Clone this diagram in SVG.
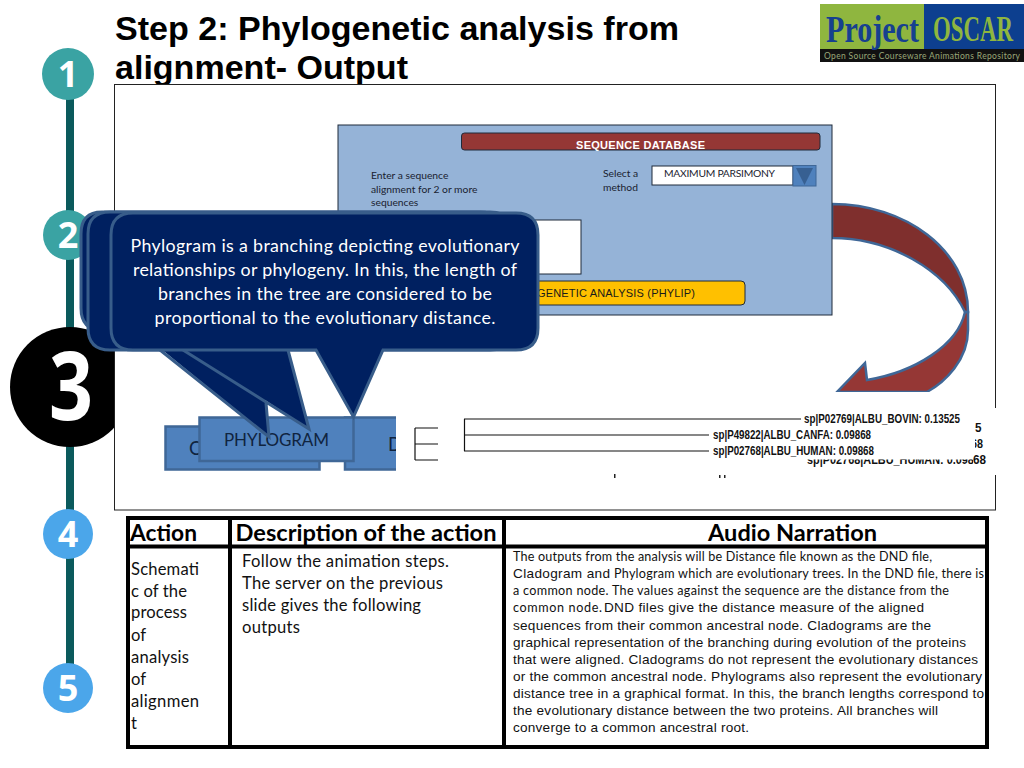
<svg xmlns="http://www.w3.org/2000/svg" width="1024" height="768" viewBox="0 0 1024 768">
<style>
text{font-family:"Lato","Noto Sans",sans-serif;fill:#111}
.ar{font-family:"Liberation Sans",Arial,sans-serif}
.title{font-family:"Liberation Sans",Arial,sans-serif;font-weight:700;font-size:33.5px;fill:#000}
.num{font-family:"Open Sans",sans-serif;font-weight:700;font-size:36px;fill:#fff;text-anchor:middle}
.call{fill:#002060;stroke:#385d8a;stroke-width:3}
.callt{font-size:17.8px;fill:#fff;text-anchor:middle}
.btn{fill:#4f81bd;stroke:#3f6797;stroke-width:2.5}
.small{font-size:10.3px;fill:#1a2230}
.hd{font-size:22.5px;font-weight:700;fill:#000}
.cell{font-size:16.6px;fill:#111}
.n1{font-size:12.6px;fill:#111}
.n2{font-family:"Liberation Sans",Arial,sans-serif;font-size:13.6px;fill:#111}
.sp{font-family:"Liberation Sans",Arial,sans-serif;font-size:13.5px;font-weight:700;fill:#111}
.tree{fill:none;stroke:#111;stroke-width:1.2}
.grid{fill:none;stroke:#000;stroke-width:4}
</style>
<defs>
<clipPath id="lastrow"><rect x="800" y="459.500" width="173" height="10"/></clipPath>
<clipPath id="dclip"><rect x="340" y="410" width="56" height="65"/></clipPath>
<clipPath id="r68"><rect x="975" y="434" width="20" height="18"/></clipPath>
</defs>
<rect width="1024" height="768" fill="#fff"/>

<g id="sidebar">
<rect x="66" y="74" width="8" height="610" fill="#0b5a5c"/>
<g id="step1"><circle cx="68" cy="74" r="26" fill="#3aa3a3"/><text class="num" x="68" y="87">1</text></g>
<g id="step2"><circle cx="68" cy="235" r="25" fill="#3aa3a3"/><text class="num" x="68" y="248">2</text></g>
<g id="step3"><circle cx="70" cy="387" r="60" fill="#000"/><text x="49" y="420" font-size="95" font-weight="700" style="font-family:'Open Sans',sans-serif;fill:#fff" textLength="44" lengthAdjust="spacingAndGlyphs">3</text></g>
<g id="step4"><circle cx="68" cy="534" r="25" fill="#4ba6ea"/><text class="num" x="68" y="547">4</text></g>
<g id="step5"><circle cx="68" cy="688" r="25" fill="#4ba6ea"/><text class="num" x="68" y="701">5</text></g>
</g>

<g id="title">
<text class="title" x="115" y="40" textLength="564" lengthAdjust="spacingAndGlyphs">Step 2: Phylogenetic analysis from</text>
<text class="title" x="115" y="79" textLength="293" lengthAdjust="spacingAndGlyphs">alignment- Output</text>
</g>

<g id="logo">
<rect x="820" y="4" width="104" height="45" fill="#8fb63f"/>
<rect x="924" y="4" width="100" height="45" fill="#0d3f8f"/>
<rect x="820" y="49" width="204" height="13" fill="#111"/>
<text x="826" y="42" font-size="37" font-weight="700" style="font-family:'Liberation Serif',serif;fill:#16408f" textLength="93" lengthAdjust="spacingAndGlyphs">Project</text>
<text x="933" y="41" font-size="35" font-weight="700" style="font-family:'Liberation Serif',serif;fill:#8fb63f" textLength="80" lengthAdjust="spacingAndGlyphs">OSCAR</text>
<text x="824" y="59" font-size="8.5" style="fill:#9aa878" textLength="196">Open Source Courseware Animations Repository</text>
</g>

<rect id="mainbox" x="114.500" y="84.500" width="881" height="425.500" fill="#fff" stroke="#222" stroke-width="1"/>

<g id="arrow">
<path d="M965 312 C958 345 915 372 867 380 L865 363 L837 392 L927 392 C945 382 968 360 968 330 L968 312 Z" fill="#953735" stroke="#3f6797" stroke-width="2.500"/>
<path d="M832 204 C905 204 968 250 968 312 L965 312 C945 270 890 238 832 238 Z" fill="#7f2f2d" stroke="#3f6797" stroke-width="2.500"/>
</g>

<g id="panel">
<rect x="338" y="125" width="494" height="190" fill="#95b3d7" stroke="#1f2a3a" stroke-width="1"/>
<g id="header"><rect x="461.500" y="133" width="358.500" height="17" rx="3" fill="#953735" stroke="#1f2a3a" stroke-width="1"/>
<text class="ar" x="576" y="149" font-size="11" font-weight="700" style="fill:#fff" textLength="129">SEQUENCE DATABASE</text></g>
<text class="small" x="371" y="179">Enter a sequence</text>
<text class="small" x="371" y="193">alignment for 2 or more</text>
<text class="small" x="371" y="206">sequences</text>
<text class="small" x="603" y="177">Select a</text>
<text class="small" x="603" y="191">method</text>
<g id="select"><rect x="652" y="166" width="141" height="19" fill="#fff" stroke="#1f2a3a" stroke-width="1"/>
<text class="small" x="664" y="176.500" textLength="111">MAXIMUM PARSIMONY</text>
<rect x="793" y="165.500" width="23" height="20.500" fill="#4f81bd" stroke="#3f6797"/>
<path d="M796 168 L813 168 L804.500 185 Z" fill="#376092"/></g>
<rect id="seqinput" x="400" y="220" width="181" height="54" fill="#fff" stroke="#1f2a3a" stroke-width="1"/>
<g id="runbtn"><rect x="430" y="281" width="315" height="24" rx="4" fill="#ffc000" stroke="#1f2a3a" stroke-width="1"/>
<text class="ar" x="537" y="297" font-size="11" style="fill:#1a1a1a" textLength="158">GENETIC ANALYSIS (PHYLIP)</text></g>
</g>

<g id="outputs">
<rect x="396" y="392" width="596" height="83" fill="#fff"/>
<rect x="440" y="408" width="560" height="67" fill="#fff"/>
<g id="cladogram-btn"><rect class="btn" x="165.500" y="426.500" width="154" height="43"/><text x="189" y="455" font-size="18.500" style="fill:#10243f">C</text></g>
<g id="dnd-btn"><rect class="btn" x="345" y="417.500" width="60" height="52" clip-path="url(#dclip)"/><text x="388" y="451" font-size="18.500" style="fill:#10243f" clip-path="url(#dclip)">D</text></g>
</g>

<g id="trees">
<path class="tree" d="M415 428V460M415 428H438M415 444H438M415 460H438" stroke="#666"/>
<path class="tree" d="M464.500 419V451M464 419H801M464 435H709M464 451H709"/>
<text class="sp" x="807" y="464" textLength="179" lengthAdjust="spacingAndGlyphs" clip-path="url(#lastrow)">sp|P02768|ALBU_HUMAN: 0.09868</text>
<text class="sp" x="804" y="423" textLength="156" lengthAdjust="spacingAndGlyphs">sp|P02769|ALBU_BOVIN: 0.13525</text>
<text class="sp" x="713" y="439" textLength="158" lengthAdjust="spacingAndGlyphs">sp|P49822|ALBU_CANFA: 0.09868</text>
<text class="sp" x="713" y="455" textLength="161" lengthAdjust="spacingAndGlyphs">sp|P02768|ALBU_HUMAN: 0.09868</text>
<text class="sp" x="975" y="432" textLength="6.500" lengthAdjust="spacingAndGlyphs">5</text>
<text class="sp" x="971" y="448" textLength="12" lengthAdjust="spacingAndGlyphs" clip-path="url(#r68)">68</text>
<text class="sp" x="973" y="464" textLength="13" lengthAdjust="spacingAndGlyphs">68</text>
<rect x="614" y="474" width="1.500" height="4" fill="#222"/><rect x="719" y="475" width="1.500" height="3" fill="#222"/><rect x="724" y="475" width="1.500" height="3" fill="#222"/>
</g>

<g id="phylogram-btn"><rect class="btn" x="199.500" y="417.500" width="154" height="43.500"/><text x="224" y="446" font-size="17" style="fill:#10243f" textLength="105">PHYLOGRAM</text></g>

<g id="callout-back"><path class="call" d="M102 212H480Q502 212 502 234V308Q502 330 480 330H102Q81 330 81 308V234Q81 212 102 212Z"/></g>
<g id="callout-mid"><path class="call" d="M110 212H490Q512 212 512 234V328Q512 350 490 350H110Q88 350 88 328V234Q88 212 110 212Z"/></g>
<path style="fill:#002060" d="M160 348L269 437L265 400L309 429L288 348Z"/>
<path d="M160 350L269 437L266 403M183 350L309 429L288 350" fill="none" stroke="#385d8a" stroke-width="3"/>
<g id="callout-front"><path class="call" d="M133 213H516Q538 213 538 235V328Q538 350 516 350H383L353.500 417L316 350H133Q111 350 111 328V235Q111 213 133 213Z"/>
<text class="callt" x="325" y="252" textLength="389">Phylogram is a branching depicting evolutionary</text>
<text class="callt" x="325" y="276" textLength="384">relationships or phylogeny. In this, the length of</text>
<text class="callt" x="325" y="300" textLength="334">branches in the tree are considered to be</text>
<text class="callt" x="325" y="324" textLength="341">proportional to the evolutionary distance.</text>
</g>

<g id="table">
<rect x="128" y="518" width="859" height="229" fill="#fff"/>
<path class="grid" d="M128 518H987V747H128ZM128 546.500H987M230 518V747M504 518V747"/>
<text class="hd" x="130" y="541" textLength="67" lengthAdjust="spacingAndGlyphs">Action</text>
<text class="hd" x="235.500" y="541" textLength="261" lengthAdjust="spacingAndGlyphs">Description of the action</text>
<text class="hd" x="708" y="541" textLength="169" lengthAdjust="spacingAndGlyphs">Audio Narration</text>
<g class="col1">
<text class="cell" x="131" y="575" textLength="68">Schemati</text>
<text class="cell" x="131" y="597" textLength="56">c of the</text>
<text class="cell" x="131" y="618" textLength="56">process</text>
<text class="cell" x="131" y="641">of</text>
<text class="cell" x="131" y="663" textLength="58">analysis</text>
<text class="cell" x="131" y="685">of</text>
<text class="cell" x="131" y="707" textLength="68">alignmen</text>
<text class="cell" x="131" y="729">t</text>
</g>
<g class="col2">
<text class="cell" x="242" y="567" textLength="207">Follow the animation steps.</text>
<text class="cell" x="242" y="589" textLength="201">The server on the previous</text>
<text class="cell" x="242" y="611" textLength="179">slide gives the following</text>
<text class="cell" x="242" y="633" textLength="58">outputs</text>
</g>
<g class="col3">
<text class="n1" x="513" y="561" textLength="419">The outputs from the analysis will be Distance file known as the DND file,</text>
<text class="n2" x="513" y="578" textLength="97">Cladogram and</text>
<text class="n1" x="614" y="578" textLength="370">Phylogram which are evolutionary trees. In the DND file, there is</text>
<text class="n1" x="513" y="595" textLength="436">a common node. The values against the sequence are the distance from the</text>
<text class="n1" x="513" y="612" textLength="89">common node.</text>
<text class="n2" x="604" y="612" textLength="320">DND files give the distance measure of  the aligned</text>
<text class="n2" x="513" y="630" textLength="418">sequences from their common ancestral node. Cladograms are the</text>
<text class="n2" x="513" y="647" textLength="453">graphical representation of the branching during evolution of the proteins</text>
<text class="n2" x="513" y="664" textLength="465">that were aligned. Cladograms do not represent the evolutionary distances</text>
<text class="n2" x="513" y="681" textLength="469">or the common ancestral node. Phylograms also represent the evolutionary</text>
<text class="n2" x="513" y="698" textLength="471">distance tree in a graphical format. In this, the branch lengths correspond to</text>
<text class="n2" x="513" y="715" textLength="425">the evolutionary distance between the two proteins. All branches will</text>
<text class="n2" x="513" y="732" textLength="236">converge to a common ancestral root.</text>
</g>
</g>
</svg>
